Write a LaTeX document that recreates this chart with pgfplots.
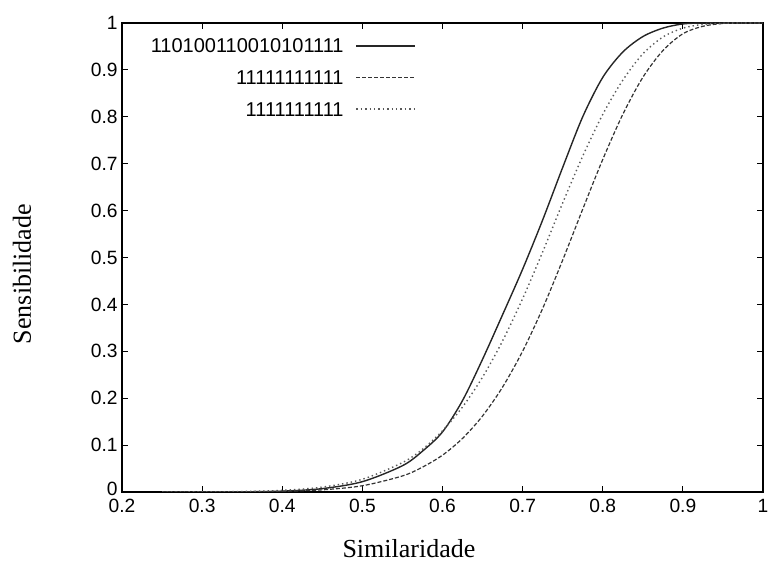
\documentclass[border=0pt]{standalone}
\usepackage{fontspec}
\setmainfont{Liberation Serif}
\newfontfamily\tickfont{Liberation Sans}
\usepackage{pgfplots}
\pgfplotsset{compat=1.18}
\usepackage{pgfplotstable}

\pgfplotstableread{
x y
0.25 0
0.30 0.0001
0.35 0.0004
0.40 0.0018
0.45 0.0072
0.50 0.022
0.55 0.056
0.575 0.087
0.60 0.128
0.625 0.195
0.65 0.283
0.675 0.378
0.70 0.475
0.725 0.58
0.75 0.692
0.775 0.800
0.80 0.884
0.825 0.938
0.85 0.971
0.875 0.989
0.90 0.998
0.925 1
0.95 1
1.0 1
}\seedspaced

\pgfplotstableread{
x y
0.25 0
0.30 0.0001
0.35 0.0003
0.40 0.0014
0.45 0.0046
0.50 0.0133
0.55 0.0342
0.575 0.053
0.60 0.0785
0.625 0.1143
0.65 0.1621
0.675 0.2237
0.70 0.3002
0.725 0.3913
0.75 0.4945
0.775 0.603
0.80 0.709
0.825 0.805
0.85 0.884
0.875 0.941
0.90 0.977
0.925 0.993
0.95 0.999
0.975 1
1.0 1
}\seedeleven

\pgfplotstableread{
x y
0.25 0
0.30 0.0002
0.35 0.001
0.40 0.0035
0.45 0.0104
0.50 0.0271
0.55 0.0627
0.575 0.091
0.60 0.1306
0.625 0.1812
0.65 0.2449
0.675 0.3222
0.70 0.4121
0.725 0.5118
0.75 0.6163
0.775 0.716
0.80 0.805
0.825 0.878
0.85 0.934
0.875 0.970
0.90 0.989
0.925 0.997
0.95 0.9995
0.975 1
1.0 1
}\seedten

\begin{document}
\begin{tikzpicture}
\begin{axis}[
  at={(61pt,34.5pt)}, anchor=south west,
  scale only axis, width=320.5pt, height=234.5pt,
  xmin=0.2, xmax=1, ymin=0, ymax=1,
  xtick={0.2,0.3,...,1.0}, ytick={0,0.1,...,1.0},
  yticklabels={\raisebox{3pt}{0},0.1,0.2,0.3,0.4,0.5,0.6,0.7,0.8,0.9,1},
  tick align=inside, major tick length=3pt,
  xtick pos=both, ytick pos=both,
  axis line style={line width=0.6pt},
  every tick/.style={line width=0.5pt, black},
  tick label style={font=\tickfont\fontsize{9.6}{10}\selectfont},
  /pgf/number format/assume math mode=true,
  /pgf/number format/.cd, fixed, precision=1, /pgfplots/.cd,
  yticklabel style={inner sep=0pt, xshift=-2pt},
  xticklabel style={inner sep=0pt, yshift=-3.5pt},
  xlabel={Similaridade},
  ylabel={Sensibilidade},
  label style={font=\fontsize{13}{15}\selectfont},
  xlabel style={at={(axis description cs:0.4477,-0.1215)}, anchor=center},
  ylabel style={at={(axis description cs:-0.156,0.4648)}, anchor=center, rotate=0},
  legend plot pos=right,
  legend cell align=right,
  legend image code/.code={\draw[#1] (0pt,0pt) -- (29.5pt,0pt);},
  legend style={at={(rel axis cs:0.4587,0.966)}, anchor=north east,
    draw=none, fill=none, inner sep=0pt, outer sep=0pt,
    font=\tickfont\fontsize{10}{11}\selectfont,
    nodes={inner sep=0pt, text height=7pt, text depth=0pt},
    row sep=8.8pt, column sep=6pt},
]
\addplot[smooth, black!85, line width=0.7pt] table[x=x,y=y] {\seedspaced};
\addlegendentry{110100110010101111}
\addplot[smooth, black!80, line width=0.6pt, dash pattern=on 2pt off 1pt] table[x=x,y=y] {\seedeleven};
\addlegendentry{11111111111}
\addplot[smooth, black!65, line width=0.7pt, dash pattern=on 0.7pt off 1.5pt] table[x=x,y=y] {\seedten};
\addlegendentry{1111111111}
\end{axis}
\pgfresetboundingbox
\path (0,0) rectangle (384pt,280.5pt);
\end{tikzpicture}
\end{document}
